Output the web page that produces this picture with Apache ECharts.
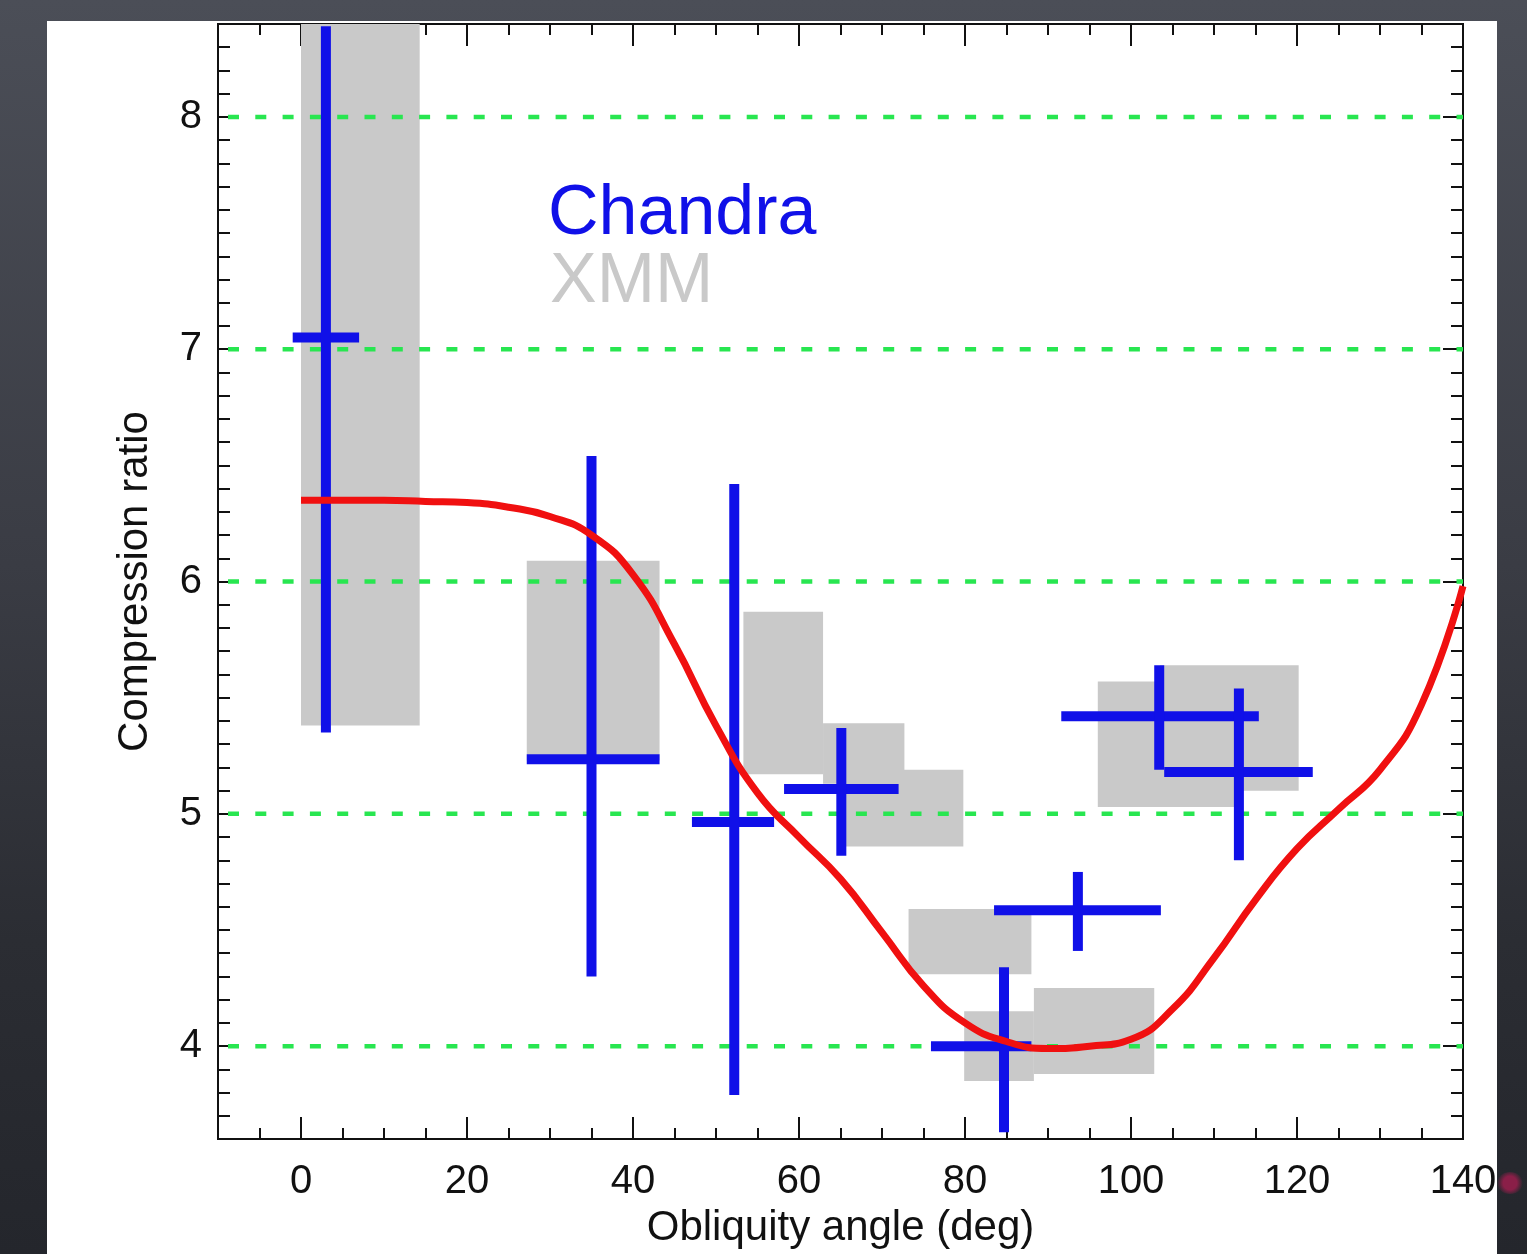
<!DOCTYPE html>
<html>
<head>
<meta charset="utf-8">
<title>Compression ratio vs obliquity angle</title>
<script src="https://cdn.jsdelivr.net/npm/echarts@6/dist/echarts.min.js"></script>
<style>
  html, body { margin: 0; padding: 0; width: 1527px; height: 1254px; overflow: hidden; }
  body { background: linear-gradient(180deg, #4b4e57 0%, #3a3c44 45%, #2b2d33 75%, #24262c 100%); position: relative; }
  #panel { position: absolute; left: 47px; top: 21px; width: 1450px; height: 1233px; background: #ffffff; }
  #blot { position: absolute; left: 1497px; top: 1172px; width: 26px; height: 22px; border-radius: 50%;
          background: radial-gradient(circle, #8a1f48 40%, rgba(120,25,60,0) 75%); }
  #chart { position: absolute; left: 0; top: 0; width: 1527px; height: 1254px; }
</style>
</head>
<body>
<div id="panel"></div>
<div id="blot"></div>
<div id="chart"></div>
<script>
// Axis ranges and tick labels
const xRange = [-10, 140];
const yRange = [3.6, 8.4];
const xTickLabels = [0, 20, 40, 60, 80, 100, 120, 140];
const yTickLabels = [4, 5, 6, 7, 8];
const guideLevels = [4, 5, 6, 7, 8];

// Chandra measurements: [angle, ratio, angleLow, angleHigh, ratioLow, ratioHigh]
const chandraPoints = [
  [3.0, 7.05, -1.0, 7.0, 5.35, 8.39],
  [35.0, 5.235, 27.2, 43.2, 4.30, 6.54],
  [52.2, 4.965, 47.1, 57.0, 3.79, 6.42],
  [65.1, 5.107, 58.2, 72.0, 4.82, 5.37],
  [84.7, 4.00, 75.9, 88.0, 3.63, 4.34],
  [93.6, 4.585, 83.5, 103.6, 4.41, 4.75],
  [103.4, 5.42, 91.6, 115.4, 5.19, 5.64],
  [113.0, 5.18, 104.0, 121.9, 4.80, 5.54]
];

// XMM ranges: [angleLow, angleHigh, ratioLow, ratioHigh]
const xmmBoxes = [
  [0.0, 14.3, 5.38, 8.6],
  [27.2, 43.2, 5.23, 6.09],
  [53.3, 62.9, 5.17, 5.87],
  [62.9, 72.7, 5.13, 5.39],
  [65.5, 79.8, 4.86, 5.19],
  [73.2, 88.0, 4.31, 4.59],
  [79.9, 88.3, 3.85, 4.15],
  [88.3, 102.8, 3.88, 4.25],
  [96.0, 113.0, 5.03, 5.57],
  [103.5, 120.2, 5.10, 5.64]
];

// Model curve: angle and compression ratio
const modelAngles = [0, 5, 10, 15, 20, 25, 30, 35, 40, 45, 50, 55, 60, 65, 70, 75, 80, 85, 90, 95, 100, 105, 110, 115, 120, 125, 130, 135, 140];
const modelRatios = [6.35, 6.35, 6.35, 6.345, 6.34, 6.32, 6.28, 6.20, 6.03, 5.73, 5.38, 5.09, 4.90, 4.72, 4.49, 4.26, 4.10, 4.02, 3.99, 4.00, 4.03, 4.16, 4.38, 4.63, 4.85, 5.02, 5.19, 5.47, 5.98];

const FONT = "'Liberation Sans', Arial, Helvetica, sans-serif";
const BLUE = '#1010e8';
const RED = '#f01010';
const GREY = '#c9c9c9';
const GREEN = '#28e650';

// minor tick positions
const xMinor = [];
for (let v = -5; v < 140; v += 5) if (v % 20 !== 0) xMinor.push(v);
const yMinor = [];
for (let i = 37; i <= 83; i++) if (i % 10 !== 0) yMinor.push(i / 10);

function axisBase(extra) {
  return Object.assign({
    type: 'value', gridIndex: 0,
    splitLine: { show: false },
    axisLine: { show: true, onZero: false, lineStyle: { color: '#111', width: 2 } }
  }, extra);
}

const xMajorTick = { show: true, inside: true, length: 22, lineStyle: { color: '#111', width: 2 }, customValues: xTickLabels };
const xMinorTick = { show: true, inside: true, length: 11, lineStyle: { color: '#111', width: 2 }, customValues: xMinor };
const yMajorTick = { show: true, inside: true, length: 20, lineStyle: { color: '#111', width: 2 }, customValues: yTickLabels };
const yMinorTick = { show: true, inside: true, length: 12, lineStyle: { color: '#111', width: 2 }, customValues: yMinor };

const chart = echarts.init(document.getElementById('chart'), null, { renderer: 'canvas' });

const option = {
  backgroundColor: 'transparent',
  animation: false,
  grid: { left: 218, top: 24, right: 64, bottom: 105, containLabel: false },
  xAxis: [
    axisBase({
      position: 'bottom', min: xRange[0], max: xRange[1],
      axisTick: xMajorTick,
      axisLabel: { show: true, customValues: xTickLabels, margin: 23, color: '#111', fontSize: 40, fontFamily: FONT },
      name: 'Obliquity angle (deg)', nameLocation: 'middle', nameGap: 67,
      nameTextStyle: { color: '#111', fontSize: 42, fontFamily: FONT }
    }),
    axisBase({ position: 'bottom', min: xRange[0], max: xRange[1], axisTick: xMinorTick, axisLabel: { show: false } }),
    axisBase({ position: 'top', min: xRange[0], max: xRange[1], axisTick: xMajorTick, axisLabel: { show: false } }),
    axisBase({ position: 'top', min: xRange[0], max: xRange[1], axisTick: xMinorTick, axisLabel: { show: false } })
  ],
  yAxis: [
    axisBase({
      position: 'left', min: yRange[0], max: yRange[1],
      axisTick: yMajorTick,
      axisLabel: { show: true, customValues: yTickLabels, margin: 16, color: '#111', fontSize: 40, fontFamily: FONT },
      name: 'Compression ratio', nameLocation: 'middle', nameGap: 62, nameRotate: 90,
      nameTextStyle: { color: '#111', fontSize: 42, fontFamily: FONT }
    }),
    axisBase({ position: 'left', min: yRange[0], max: yRange[1], axisTick: yMinorTick, axisLabel: { show: false } }),
    axisBase({ position: 'right', min: yRange[0], max: yRange[1], axisTick: yMajorTick, axisLabel: { show: false } }),
    axisBase({ position: 'right', min: yRange[0], max: yRange[1], axisTick: yMinorTick, axisLabel: { show: false } })
  ],
  graphic: [
    { type: 'text', left: 548, top: 180, z: 100,
      style: { text: 'Chandra', fill: BLUE, font: '70px ' + FONT } },
    { type: 'text', left: 550, top: 248, z: 100,
      style: { text: 'XMM', fill: GREY, font: '70px ' + FONT } }
  ],
  series: [
    {
      name: 'XMM', type: 'custom', z: 1, clip: true,
      data: xmmBoxes,
      renderItem: function (params, api) {
        const p0 = api.coord([api.value(0), api.value(3)]);
        const p1 = api.coord([api.value(1), api.value(2)]);
        const cs = params.coordSys;
        const rect = echarts.graphic.clipRectByRect(
          { x: p0[0], y: p0[1], width: p1[0] - p0[0], height: p1[1] - p0[1] },
          { x: cs.x, y: cs.y, width: cs.width, height: cs.height });
        return rect && { type: 'rect', shape: rect, style: { fill: GREY } };
      }
    },
    {
      name: 'levels', type: 'custom', z: 2,
      data: guideLevels.map(function (v) { return [v]; }),
      renderItem: function (params, api) {
        const a = api.coord([xRange[0], api.value(0)]);
        const b = api.coord([xRange[1], api.value(0)]);
        return { type: 'line', shape: { x1: a[0], y1: a[1], x2: b[0], y2: b[1] },
                 style: { stroke: GREEN, lineWidth: 4.5, lineDash: [11, 16.3], lineDashOffset: -10 } };
      }
    },
    {
      name: 'Chandra', type: 'custom', z: 3,
      data: chandraPoints,
      renderItem: function (params, api) {
        const x = api.value(0), y = api.value(1);
        const l = api.coord([api.value(2), y]);
        const r = api.coord([api.value(3), y]);
        const b = api.coord([x, api.value(4)]);
        const t = api.coord([x, api.value(5)]);
        const st = { stroke: BLUE, lineWidth: 10 };
        return { type: 'group', children: [
          { type: 'line', shape: { x1: l[0], y1: l[1], x2: r[0], y2: r[1] }, style: st },
          { type: 'line', shape: { x1: b[0], y1: b[1], x2: t[0], y2: t[1] }, style: st }
        ] };
      }
    },
    {
      name: 'model', type: 'line', z: 4,
      data: modelAngles.map(function (a, i) { return [a, modelRatios[i]]; }),
      smooth: 0.5, showSymbol: false, symbol: 'none',
      lineStyle: { color: RED, width: 7 }
    }
  ]
};

chart.setOption(option);
</script>
</body>
</html>
